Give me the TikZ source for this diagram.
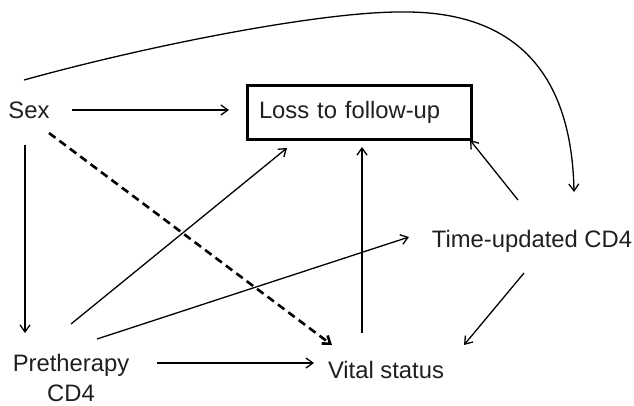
\documentclass[tikz,border=0pt]{standalone}
\usepackage{fontspec}
\setmainfont{Liberation Sans}
\usetikzlibrary{arrows.meta}
\begin{document}
\begin{tikzpicture}[x=1pt,y=-1pt,
  lbl/.style={inner sep=0pt, outer sep=0pt, font=\fontsize{23.8}{30}\selectfont, text=black!88},
  arr/.style={line width=1.3pt, -{Straight Barb[length=7pt,width=10pt]}},
  dasharr/.style={line width=2.6pt, dash pattern=on 8pt off 5pt, -{Straight Barb[length=7pt,width=10pt]}},
  boxnode/.style={draw, line width=3pt, outer sep=0pt, inner xsep=12pt, inner ysep=0pt,
    text width=200pt, minimum height=54pt, anchor=west, align=left,
    font=\fontsize{23.8}{31}\selectfont, text=black!88}
]
\useasboundingbox (0,0) rectangle (634,405);

\node[lbl, anchor=base] (sex) at (29,118) {Sex};
\node[boxnode] (loss) at (247,112) {Loss to follow-up};
\node[lbl, anchor=base] (tcd4) at (532,247) {Time-updated CD4};
\node[lbl, anchor=base] (vital) at (386,378) {Vital status};
\node[lbl, align=center, anchor=center] (pre) at (71,377.5) {Pretherapy\\CD4};

% Sex -> Loss
\draw[arr] ([xshift=43pt,yshift=8pt]sex.base) -- ([xshift=-18pt,yshift=2pt]loss.west);
% Sex -> Time-updated (curve)
\draw[arr] ([xshift=-5pt,yshift=38pt]sex.base) .. controls (150,45) and (320,12) .. (400,12)
  .. controls (530,10) and (572,90) .. ([xshift=42pt,yshift=55pt]tcd4.base);
% Sex -> Vital (dashed)
\draw[dasharr] ([xshift=20pt,yshift=-15pt]sex.base) -- ([xshift=-54pt,yshift=33pt]vital.base);
% Sex -> Pretherapy
\draw[arr] ([xshift=-4pt,yshift=-27pt]sex.base) -- ([xshift=-46pt,yshift=44.5pt]pre.center);
% Pretherapy -> Loss
\draw[arr] ([yshift=53.5pt]pre.center) -- ([xshift=40pt,yshift=-9pt]loss.south west);
% Pretherapy -> Time-updated
\draw[arr] ([xshift=26pt,yshift=38.5pt]pre.center) -- ([xshift=-123pt,yshift=10pt]tcd4.base);
% Pretherapy -> Vital
\draw[arr] ([xshift=86pt,yshift=14.5pt]pre.center) -- ([xshift=-72pt,yshift=15pt]vital.base);
% Vital -> Loss
\draw[arr] ([xshift=-24pt,yshift=45pt]vital.base) -- ([xshift=3pt,yshift=-8pt]loss.south);
% Time-updated -> Loss
\draw[arr] ([xshift=-14pt,yshift=47pt]tcd4.base) -- ([xshift=-1pt,yshift=-1pt]loss.south east);
% Time-updated -> Vital
\draw[arr] ([xshift=-8pt,yshift=-26pt]tcd4.base) -- ([xshift=78pt,yshift=33pt]vital.base);
\end{tikzpicture}
\end{document}
